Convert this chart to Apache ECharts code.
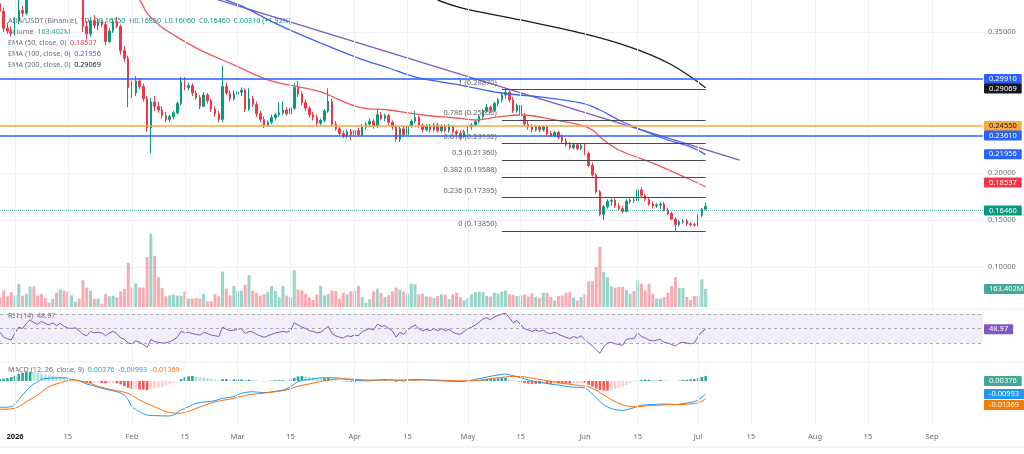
<!DOCTYPE html>
<html><head><meta charset="utf-8">
<script src="https://cdn.jsdelivr.net/npm/echarts@6/dist/echarts.min.js"></script>
<style>html,body{margin:0;padding:0;background:#fff}#c{width:1024px;height:454px}</style>
</head><body><div id="c"></div>
<script>
// ---- DATA (day offsets relative to 2026-01-01) ----
const firstDay = -4;
// daily candles [open, high, low, close]
const ohlc = [
[.380,.384,.368,.372],[.372,.376,.350,.354],[.354,.360,.348,.351],[.351,.356,.345,.348],[.348,.366,.346,.362],
[.362,.392,.358,.373],[.373,.378,.366,.370],[.370,.402,.368,.398],[.398,.418,.395,.412],[.412,.416,.398,.402],
[.402,.406,.392,.396],[.396,.402,.388,.392],[.392,.398,.386,.389],[.389,.394,.385,.387],[.387,.400,.386,.397],
[.397,.402,.388,.391],[.391,.412,.389,.408],[.408,.412,.396,.399],[.399,.404,.390,.393],[.393,.402,.390,.399],
[.399,.404,.395,.401],[.401,.404,.390,.394],[.394,.398,.350,.356],[.356,.362,.342,.348],[.348,.366,.345,.362],
[.362,.368,.354,.357],[.357,.364,.352,.361],[.361,.363,.355,.358],[.358,.361,.336,.340],[.340,.354,.338,.351],
[.351,.364,.349,.361],[.361,.366,.354,.356],[.356,.358,.326,.330],[.330,.335,.318,.322],[.322,.325,.270,.291],
[.291,.298,.280,.285],[.285,.303,.282,.298],[.298,.301,.289,.292],[.292,.295,.276,.279],[.279,.282,.244,.248],
[.248,.280,.221,.2755],[.2755,.282,.266,.271],[.271,.276,.264,.267],[.267,.271,.258,.261],[.261,.265,.254,.257],
[.257,.262,.254,.260],[.260,.266,.257,.264],[.264,.276,.262,.274],[.274,.302,.272,.297],[.297,.302,.288,.291],
[.291,.296,.288,.293],[.293,.295,.282,.285],[.285,.288,.278,.280],[.280,.283,.268,.271],[.271,.286,.270,.283],
[.283,.285,.274,.277],[.277,.279,.265,.268],[.268,.271,.260,.263],[.263,.266,.254,.257],[.257,.314,.254,.292],
[.292,.296,.283,.285],[.285,.288,.276,.279],[.279,.288,.277,.284],[.284,.289,.280,.286],[.286,.291,.282,.288],
[.288,.290,.265,.268],[.268,.290,.266,.279],[.279,.282,.270,.273],[.273,.276,.260,.263],[.263,.266,.254,.257],
[.257,.260,.248,.251],[.251,.256,.249,.254],[.254,.262,.252,.259],[.259,.264,.256,.262],[.262,.275,.260,.264],
[.264,.276,.262,.267],[.267,.270,.261,.263],[.263,.272,.261,.269],[.269,.296,.267,.291],[.291,.298,.281,.284],
[.284,.287,.272,.275],[.275,.278,.266,.269],[.269,.271,.259,.262],[.262,.265,.256,.259],[.259,.262,.250,.253],
[.253,.258,.251,.256],[.256,.268,.254,.266],[.266,.290,.264,.276],[.276,.279,.250,.252],[.252,.255,.245,.247],
[.247,.249,.240,.242],[.242,.245,.237,.239],[.239,.246,.237,.244],[.244,.247,.235,.241],[.241,.247,.239,.245],
[.245,.248,.239,.241],[.241,.252,.239,.249],[.249,.254,.246,.252],[.252,.258,.249,.255],[.255,.257,.247,.250],
[.250,.268,.248,.262],[.262,.265,.256,.258],[.258,.263,.255,.261],[.261,.263,.251,.254],[.254,.256,.246,.249],
[.249,.251,.233,.236],[.236,.250,.233,.247],[.247,.250,.238,.241],[.241,.252,.239,.250],[.250,.257,.248,.255],
[.255,.266,.253,.259],[.259,.261,.248,.251],[.251,.253,.243,.246],[.246,.252,.244,.250],[.250,.252,.243,.246],
[.246,.253,.244,.251],[.251,.253,.243,.245],[.245,.252,.243,.250],[.250,.252,.243,.245],[.245,.252,.243,.250],
[.250,.251,.242,.244],[.244,.246,.240,.242],[.242,.245,.235,.239],[.239,.246,.237,.244],[.244,.251,.242,.249],
[.249,.253,.246,.251],[.251,.256,.249,.255],[.255,.262,.253,.260],[.260,.268,.257,.266],[.266,.273,.264,.270],
[.270,.272,.264,.267],[.267,.276,.265,.274],[.274,.280,.271,.278],[.278,.285,.275,.283],[.283,.2887,.279,.286],
[.286,.288,.275,.278],[.278,.281,.264,.266],[.266,.274,.264,.272],[.272,.275,.259,.261],[.261,.264,.250,.252],
[.252,.256,.246,.249],[.249,.252,.243,.246],[.246,.251,.244,.249],[.249,.251,.243,.246],[.246,.251,.244,.249],
[.249,.251,.240,.242],[.242,.245,.238,.240],[.240,.245,.238,.243],[.243,.245,.236,.238],[.238,.241,.232,.234],
[.234,.237,.228,.230],[.230,.233,.225,.227],[.227,.232,.225,.230],[.230,.232,.224,.226],[.226,.231,.224,.229],
[.229,.231,.219,.221],[.221,.223,.206,.208],[.208,.211,.196,.198],[.198,.200,.178,.180],[.180,.182,.154,.156],
[.156,.166,.150,.164],[.164,.172,.162,.170],[.170,.173,.165,.171],[.171,.173,.163,.165],[.165,.168,.160,.162],
[.162,.165,.157,.159],[.159,.172,.158,.170],[.170,.173,.167,.171],[.171,.174,.168,.1705],[.1705,.190,.169,.182],
[.182,.185,.174,.176],[.176,.178,.170,.172],[.172,.174,.165,.167],[.167,.170,.162,.165],[.165,.168,.163,.166],
[.166,.169,.162,.167],[.167,.169,.159,.1605],[.1605,.163,.155,.157],[.157,.159,.150,.151],[.151,.153,.1385,.145],
[.145,.150,.143,.148],[.148,.151,.146,.149],[.149,.151,.144,.146],[.146,.148,.143,.145],[.145,.147,.143,.1445],
[.1445,.156,.143,.155],[.155,.163,.153,.1615],[.1615,.1685,.1606,.1646]
];
// daily volume, millions
const volume = [
88,151,97,133,106,212,103,121,185,188, 103,118,82,42,73,130,160,148,139,106,
48,76,242,176,148,76,76,30,118,97, 103,88,142,163,400,179,215,176,176,454,
666,463,270,173,97,106,112,103,103,142, 76,76,82,79,118,51,51,118,97,321,
166,106,191,148,148,203,288,148,130,103, 118,136,191,145,88,191,103,88,333,160,
151,118,88,64,112,191,106,118,148,145, 76,130,112,142,148,194,
91,39,70,142,166,127,91,106,142,176,157,139,121,212,206,115,121,97,
95,80,100,115,110,70,115,130,90,60, 80,115,135,140,135,100,95,130,120,140,
150,115,110,100,105,115,95,125,90,80, 130,128,90,60,100,105,130,135,85,60, 90,115,
233,233,363,545,318,272,188,176,182,182, 157,121,145,242,212,151,212,121,76,76,
91,127,188,272,173,173,91,61,100,100, 251,163.402
];
// EMA lines [day, value]
const ema50 = [[30,.392],[33,.384],[35,.370],[38,.358],[42,.347],[49,.331],[58,.315],[67,.299],[74,.2926],[81,.2862],[91,.2702],[99,.2670],[108,.2617],[117,.2585],[122,.2564],[128,.2596],[134,.2617],[143,.2564],[152,.2479],[156,.2351],[160,.2245],[169,.2106],[178,.1947],[183,.18537]];
const ema100 = [[52,.392],[56,.384],[60,.3777],[70,.3574],[81,.3383],[91,.3223],[99,.3117],[107,.3011],[118,.2936],[129,.2851],[139,.2809],[150,.2745],[155,.2670],[160,.2564],[168,.2426],[173,.2351],[179,.2277],[183,.21956]];
const ema200 = [[112,.384],[118.5,.3755],[134,.3628],[150,.3489],[163,.3340],[173.6,.3160],[183,.29069]];
const trendline = [[50,.389],[192,.2138]];
const hLevels = [0.2991, 0.2455, 0.2361];
const fibRatios = ['1','0.786','0.618','0.5','0.382','0.236','0'];
const fibLevels = [0.28870,0.25656,0.23132,0.21360,0.19588,0.17395,0.13850];
const fibStartDay = 129, fibEndDay = 183;
// RSI(14)
const rsi = [[-4,45],[-3,38],[-2,36],[-1,34],[0,44],[1,52],[2,50],[3,57],[4,62],[5,58],[6,56],[7,60],[8,57],[9,55],[10,58],[11,54],[12,57],[13,53],[14,51],[15,50],[16,51],[17,47],[18,42],[19,40],[20,46],[21,44],[22,45],[23,44],[24,40],[25,44],[26,46],[27,43],[28,37],[29,35],[30,30],[31,29],[32,33],[33,31],[34,28],[35,24],[36,35],[37,32],[38,31],[39,30],[40,30],[41,32],[42,34],[43,38],[44,46],[45,44],[46,45],[47,43],[48,42],[49,41],[50,45],[51,43],[52,41],[53,40],[54,39],[55,52],[56,49],[57,47],[58,48],[59,49],[60,50],[61,43],[62,46],[63,45],[64,42],[65,40],[66,38],[67,40],[68,42],[69,44],[70,45],[71,46],[72,45],[73,47],[74,58],[75,55],[76,52],[77,50],[78,47],[79,46],[80,44],[81,45],[82,49],[83,53],[84,43],[85,40],[86,38],[87,37],[88,40],[89,39],[90,41],[91,40],[92,46],[93,48],[94,50],[95,48],[96,56],[97,53],[98,54],[99,50],[100,47],[101,38],[102,45],[103,42],[104,48],[105,52],[106,55],[107,50],[108,47],[109,49],[110,47],[111,50],[112,47],[113,50],[114,47],[115,49],[116,45],[117,43],[118,42],[119,46],[120,50],[121,52],[122,55],[123,59],[124,63],[125,65],[126,62],[127,66],[128,68],[129,70],[130,71],[131,65],[132,58],[133,61],[134,55],[135,50],[136,48],[137,46],[138,48],[139,46],[140,48],[141,44],[142,43],[143,45],[144,42],[145,40],[146,38],[147,36],[148,39],[149,37],[150,40],[151,35],[152,30],[153,26],[154,21],[155,16],[156,25],[157,30],[158,31],[159,29],[160,28],[161,27],[162,35],[163,36],[164,36],[165,44],[166,39],[167,37],[168,34],[169,33],[170,34],[171,35],[172,31],[173,30],[174,28],[175,26],[176,30],[177,31],[178,30],[179,29],[180,30],[181,39],[182,46],[183,48.97]];
// MACD (12, 26, close, 9)
const macdHist = [
.0015,.0018,.0022,.0030,.0040,.0055,.0062,.0068,.0070,.0068,
.0062,.0055,.0048,.0042,.0038,.0034,.0030,.0024,.0016,.0008,
.0004,-.0002,-.0010,-.0016,-.0018,-.0015,-.0014,-.0016,-.0018,-.0016,
-.0014,-.0018,-.0026,-.0040,-.0052,-.0062,-.0060,-.0064,-.0066,-.0070,
-.0062,-.0058,-.0052,-.0044,-.0036,-.0026,-.0014,.0000,.0014,.0030,
.0036,.0038,.0034,.0030,.0028,.0022,.0018,.0012,.0008,.0014,
.0014,.0012,.0012,.0012,.0012,.0008,.0010,.0008,.0004,.0000,
-.0002,.0002,.0004,.0006,.0006,.0006,.0004,.0012,.0024,.0035,
.0038,.0036,.0033,.0028,.0024,.0022,.0022,.0022,.0016,.0010,
.0004,-.0002,-.0004,-.0006,-.0007,-.0006,-.0005,-.0003,-.0002,-.0001,
.0004,.0005,.0006,.0003,.0000,-.0006,-.0004,-.0004,.0000,.0004,
.0006,.0003,.0000,.0000,-.0001,.0000,-.0001,.0000,-.0002,-.0002,
-.0004,-.0005,-.0006,-.0004,-.0002,.0001,.0004,.0008,.0012,.0015,
.0016,.0018,.0020,.0022,.0023,.0014,.0005,-.0002,-.0009,-.0015,
-.0019,-.0021,-.0022,-.0022,-.0021,-.0021,-.0021,-.0019,-.0019,-.0019,
-.0019,-.0020,-.0018,-.0017,-.0014,-.0015,-.0029,-.0043,-.0057,-.0069,
-.0073,-.0073,-.0068,-.0061,-.0052,-.0043,-.0031,-.0018,-.0008,.0003,
.0007,.0009,.0009,.0008,.0007,.0008,.0006,.0004,.0002,.0000,
.0003,.0007,.0009,.0012,.0014,.0021,.0031,.00376
];
const macdLine = [[-4,-.0201],[-1,-.0196],[0,-.0175],[2,-.0107],[4,-.0044],[6,-.0005],[7,.0013],[10,.0023],[13,.0025],[15,.0013],[17,.0002],[19,-.0023],[21,-.0038],[22,-.0048],[24,-.0063],[27,-.0082],[29,-.0107],[30,-.0145],[31,-.0196],[33,-.0234],[35,-.0260],[38,-.0265],[40,-.0267],[42,-.0260],[44,-.0221],[46,-.0196],[48,-.0170],[51,-.0158],[53,-.0150],[55,-.0132],[58,-.0120],[60,-.0094],[63,-.0082],[66,-.0089],[68,-.0082],[71,-.0069],[73,-.0045],[74,-.0025],[75,-.0005],[78,.0012],[82,.0025],[86,.0022],[90,.0005],[94,.0002],[98,.0012],[102,.0004],[106,.0012],[110,.0006],[114,.0000],[118,-.0004],[122,.0012],[126,.0036],[128,.0046],[130,.0053],[131,.0048],[132,.0040],[133,.0033],[134,.0025],[135,.0016],[136,.0008],[137,.0001],[138,-.0005],[140,-.0014],[142,-.0024],[144,-.0031],[146,-.0040],[148,-.0047],[150,-.0050],[151,-.0054],[152,-.0075],[153,-.0100],[154,-.0128],[155,-.0158],[156,-.0180],[157,-.0198],[158,-.0210],[159,-.0218],[160,-.0222],[161,-.0224],[162,-.0220],[163,-.0212],[164,-.0204],[165,-.0192],[166,-.0186],[168,-.0180],[170,-.0178],[172,-.0176],[174,-.0178],[175,-.0180],[176,-.0177],[177,-.0172],[178,-.0168],[179,-.0163],[180,-.0158],[181,-.0145],[182,-.0124],[183,-.00993]];
const signalLine = [[-4,-.0216],[0,-.0208],[3,-.0158],[6,-.0107],[9,-.0044],[13,-.0005],[15,.0008],[17,.0002],[20,-.0018],[22,-.0040],[26,-.0069],[30,-.0094],[33,-.0145],[37,-.0196],[40,-.0234],[43,-.0247],[46,-.0232],[49,-.0198],[53,-.0160],[58,-.0132],[62,-.0105],[67,-.0089],[71,-.0074],[73,-.0060],[75,-.0040],[78,-.0022],[82,.0002],[86,.0016],[90,.0013],[94,.0007],[98,.0007],[102,.0007],[106,.0007],[110,.0008],[114,.0005],[118,.0001],[122,.0002],[126,.0018],[128,.0025],[130,.0030],[132,.0035],[134,.0034],[136,.0027],[138,.0017],[140,.0007],[142,-.0003],[144,-.0012],[146,-.0021],[148,-.0029],[150,-.0036],[151,-.0039],[152,-.0046],[153,-.0057],[154,-.0071],[155,-.0089],[156,-.0107],[157,-.0125],[158,-.0142],[159,-.0157],[160,-.0170],[161,-.0181],[162,-.0189],[163,-.0194],[164,-.0196],[165,-.0195],[167,-.0191],[169,-.0187],[171,-.0184],[173,-.0181],[175,-.0180],[177,-.0179],[179,-.0175],[180,-.0172],[181,-.0166],[182,-.0155],[183,-.01369]];
// axis ticks
const xTicks = [0,14,31,45,59,73,90,104,120,134,151,165,181,195,212,226,243];
const xTickLabels = ['2026','15','Feb','15','Mar','15','Apr','15','May','15','Jun','15','Jul','15','Aug','15','Sep'];
const priceLabels = [0.10, 0.15, 0.20, 0.35];
const rsiBands = [70, 50, 30];

// ---- STYLE ----
const FONT = 'Noto Sans';
const UP = '#089981', DOWN = '#f23645';
const X_MIN = -3.975, X_MAX = 256.5;
const levelColors = ['#2962ff', '#f7a942', '#2962ff'];
const levelTagFg = ['#fff', '#131722', '#fff'];

const last = a => a[a.length - 1];
const lastVal = a => last(a)[1];
const f5 = v => v.toFixed(5);

function tag(text, bg, fg, shift) {
  const rich = {t: {backgroundColor: bg, color: fg, fontSize: 7.5, fontFamily: FONT, lineHeight: 9, padding: [1, 5, 1, 5], borderRadius: 1},
    s: {lineHeight: shift || 1, fontSize: 1}};
  return {show: true, position: 'end', distance: 1,
    formatter: shift ? '{s| }\n{t|' + text + '}' : '{t|' + text + '}', rich: rich};
}
const hiddenLine = {color: 'rgba(0,0,0,0)', width: 1};

const candleData = ohlc.map((r, i) => [firstDay + i, r[0], r[3], r[2], r[1]]);
const volData = volume.map((v, i) => ({value: [firstDay + i, v],
  itemStyle: {color: ohlc[i][3] >= ohlc[i][0] ? 'rgba(8,153,129,0.42)' : 'rgba(242,54,69,0.42)'}}));
const histData = macdHist.map((v, i) => {
  const p = i > 0 ? macdHist[i - 1] : v;
  let c;
  if (v >= 0) c = v >= p ? '#26a69a' : '#b2dfdb'; else c = v <= p ? '#ff5252' : '#ffcdd2';
  return {value: [firstDay + i, v], itemStyle: {color: c}};
});
const lastBar = last(ohlc);
const prevClose = ohlc[ohlc.length - 2][3];
const chg = lastBar[3] - prevClose;

const chart = echarts.init(document.getElementById('c'), null, {renderer: 'canvas', width: 1024, height: 454});
const xa = i => ({type: 'value', gridIndex: i, min: X_MIN, max: X_MAX, show: false});
const g = (t) => ({left: 0, right: 41, top: t.top, height: t.h, containLabel: false, outerBoundsMode: 'none'});

const legendG = {fill: '#6a6d78', fontSize: 7.2, fontFamily: FONT};
function row(top, parts) {
  const rich = {};
  let text = '';
  parts.forEach((p, i) => { rich['p' + i] = Object.assign({}, legendG, p.c ? {fill: p.c} : {}); text += '{p' + i + '|' + p.t + '}'; });
  return {type: 'text', left: 8, top: top, z: 1, silent: true, style: {text: text, rich: rich}};
}
const mlBase = {silent: true, symbol: ['none', 'none'], animation: false};

const option = {
  animation: false,
  backgroundColor: '#fff',
  textStyle: {fontFamily: FONT},
  grid: [g({top: -15, h: 329}), g({top: 227, h: 80}), g({top: 292.3, h: 72.5}), g({top: 363, h: 60}), g({top: 0, h: 425})],
  xAxis: [xa(0), xa(1), xa(2), xa(3), {
    type: 'value', gridIndex: 4, min: X_MIN, max: X_MAX,
    axisLine: {show: false}, axisTick: {show: false, customValues: xTicks}, splitLine: {show: false},
    axisLabel: {customValues: xTicks, margin: 7.5, fontSize: 7.5, color: '#6a6d78', fontFamily: FONT,
      formatter: v => { const i = xTicks.indexOf(Math.round(v)); const s = i >= 0 ? xTickLabels[i] : ''; return i === 0 ? '{b|' + s + '}' : s; },
      rich: {b: {color: '#131722', fontSize: 7.5, fontFamily: FONT, fontWeight: 'bold'}}}
  }],
  yAxis: [
    {type: 'value', gridIndex: 0, position: 'right', min: 0.05, max: 0.40, interval: 0.05,
      axisLine: {show: false}, axisTick: {show: false},
      splitLine: {show: true, showMinLine: false, lineStyle: {color: '#f0f2f6', width: 1}},
      axisLabel: {margin: 5, fontSize: 7.5, color: '#6a6d78', fontFamily: FONT, showMinLabel: false,
        formatter: v => priceLabels.some(p => Math.abs(p - v) < 1e-6) ? v.toFixed(5) : ''}},
    {type: 'value', gridIndex: 1, min: 0, max: 726, show: false},
    {type: 'value', gridIndex: 2, min: 0, max: 100, show: false},
    {type: 'value', gridIndex: 3, min: -0.03206, max: 0.01374, show: false},
    {type: 'value', gridIndex: 4, min: 0, max: 1, show: false}
  ],
  series: [
    {type: 'line', xAxisIndex: 4, yAxisIndex: 4, data: [], z: 0, silent: true,
      markLine: Object.assign({}, mlBase, {label: {show: false},
        lineStyle: {color: '#f0f2f6', width: 1, type: 'solid'}, data: xTicks.map(d => ({xAxis: d}))})},
    {type: 'candlestick', xAxisIndex: 0, yAxisIndex: 0, data: candleData, barWidth: 2, z: 3,
      encode: {x: 0, y: [1, 2, 3, 4]},
      itemStyle: {color: UP, color0: DOWN, borderColor: UP, borderColor0: DOWN, borderWidth: 1},
      markLine: Object.assign({}, mlBase, {data: [
        ...hLevels.map((v, i) => ({yAxis: v, lineStyle: {color: levelColors[i], width: 1.6, type: 'solid'},
          label: tag(f5(v), levelColors[i], levelTagFg[i])})),
        {yAxis: lastBar[3], lineStyle: {color: 'rgba(8,153,129,0.6)', width: 1, type: 'dotted'}, label: tag(f5(lastBar[3]), UP, '#fff')},
        ...fibLevels.map((v, i) => [{coord: [fibStartDay, v], lineStyle: {color: '#4a4a4a', width: 1.2, type: 'solid'},
          label: {show: true, position: 'start', distance: 5, formatter: fibRatios[i] + ' (' + f5(v) + ')\n ',
            color: '#5d606b', fontSize: 7.5, fontFamily: FONT, lineHeight: 14}}, {coord: [fibEndDay, v]}])
      ]})},
    {type: 'line', xAxisIndex: 0, yAxisIndex: 0, data: trendline, showSymbol: false, z: 4,
      lineStyle: {color: '#7e57c2', width: 1.3}},
    {type: 'line', xAxisIndex: 0, yAxisIndex: 0, data: ema50, smooth: 0.4, showSymbol: false, z: 4,
      lineStyle: {color: '#f0565e', width: 1.3},
      markLine: Object.assign({}, mlBase, {data: [{yAxis: lastVal(ema50), lineStyle: hiddenLine, label: tag(f5(lastVal(ema50)), '#f23645', '#fff')}]})},
    {type: 'line', xAxisIndex: 0, yAxisIndex: 0, data: ema100, smooth: 0.4, showSymbol: false, z: 4,
      lineStyle: {color: '#3d63f5', width: 1.3},
      markLine: Object.assign({}, mlBase, {data: [{yAxis: lastVal(ema100), lineStyle: hiddenLine, label: tag(f5(lastVal(ema100)), '#2962ff', '#fff')}]})},
    {type: 'line', xAxisIndex: 0, yAxisIndex: 0, data: ema200, smooth: 0.4, showSymbol: false, z: 4,
      lineStyle: {color: '#1a1a1a', width: 1.3},
      markLine: Object.assign({}, mlBase, {data: [{yAxis: lastVal(ema200), lineStyle: hiddenLine, label: tag(f5(lastVal(ema200)), '#131722', '#fff')}]})},
    {type: 'bar', xAxisIndex: 1, yAxisIndex: 1, data: volData, barWidth: 3, z: 2,
      markLine: Object.assign({}, mlBase, {data: [{yAxis: last(volume), lineStyle: hiddenLine, label: tag(last(volume).toFixed(3) + 'M', '#3fa99a', '#fff')}]})},
    {type: 'line', xAxisIndex: 2, yAxisIndex: 2, data: rsi, showSymbol: false, z: 3,
      lineStyle: {color: '#7e57c2', width: 1},
      markArea: {silent: true, itemStyle: {color: 'rgba(126,87,194,0.1)'}, data: [[{yAxis: rsiBands[2]}, {yAxis: rsiBands[0]}]]},
      markLine: Object.assign({}, mlBase, {label: {show: false},
        data: [...rsiBands.map(b => ({yAxis: b, lineStyle: {color: '#9598a1', width: 0.8, type: [3, 3]}})),
          {yAxis: lastVal(rsi), lineStyle: hiddenLine, label: tag(lastVal(rsi).toFixed(2), '#7e57c2', '#fff')}]})},
    {type: 'bar', xAxisIndex: 3, yAxisIndex: 3, data: histData, barWidth: 2.6, z: 2,
      markLine: Object.assign({}, mlBase, {data: [{yAxis: last(macdHist), lineStyle: hiddenLine, label: tag(f5(last(macdHist)), '#3fa99a', '#fff')}]})},
    {type: 'line', xAxisIndex: 3, yAxisIndex: 3, data: macdLine, smooth: 0.3, showSymbol: false, z: 3,
      lineStyle: {color: '#2196f3', width: 1},
      markLine: Object.assign({}, mlBase, {data: [{yAxis: lastVal(macdLine), lineStyle: hiddenLine, label: tag(f5(lastVal(macdLine)), '#2196f3', '#fff')}]})},
    {type: 'line', xAxisIndex: 3, yAxisIndex: 3, data: signalLine, smooth: 0.3, showSymbol: false, z: 3,
      lineStyle: {color: '#ff6d00', width: 1},
      markLine: Object.assign({}, mlBase, {data: [{yAxis: lastVal(signalLine), lineStyle: hiddenLine, label: tag(f5(lastVal(signalLine)), '#f57c00', '#fff', 22)}]})}
  ],
  graphic: [
    {type: 'rect', silent: true, z: 0, shape: {x: 0, y: 308.5, width: 1024, height: 1}, style: {fill: '#eceff3'}},
    {type: 'rect', silent: true, z: 0, shape: {x: 0, y: 361.5, width: 1024, height: 1}, style: {fill: '#eceff3'}},
    {type: 'rect', silent: true, z: 0, shape: {x: 0, y: 446.5, width: 1024, height: 1}, style: {fill: '#e6e8ec'}},
    row(17, [{t: 'ADA/USDT (Binance), 1D  '}, {t: 'O'}, {t: f5(lastBar[0]) + '  ', c: UP}, {t: 'H'}, {t: f5(lastBar[1]) + '  ', c: UP},
      {t: 'L'}, {t: f5(lastBar[2]) + '  ', c: UP}, {t: 'C'}, {t: f5(lastBar[3]) + '  ', c: UP},
      {t: f5(chg) + ' (+' + (chg / prevClose * 100).toFixed(2) + '%)', c: UP}]),
    row(28, [{t: 'Volume  '}, {t: last(volume).toFixed(3) + 'M', c: '#26a69a'}]),
    row(39, [{t: 'EMA (50, close, 0)  '}, {t: f5(lastVal(ema50)), c: '#f23645'}]),
    row(50, [{t: 'EMA (100, close, 0)  '}, {t: f5(lastVal(ema100)), c: '#2962ff'}]),
    row(61, [{t: 'EMA (200, close, 0)  '}, {t: f5(lastVal(ema200)), c: '#131722'}]),
    row(312, [{t: 'RSI (14)  '}, {t: lastVal(rsi).toFixed(2), c: '#7e57c2'}]),
    row(366, [{t: 'MACD (12, 26, close, 9)  '}, {t: f5(last(macdHist)) + '  ', c: '#26a69a'},
      {t: f5(lastVal(macdLine)) + '  ', c: '#2196f3'}, {t: f5(lastVal(signalLine)), c: '#ff6d00'}])
  ]
};
chart.setOption(option);
</script></body></html>
